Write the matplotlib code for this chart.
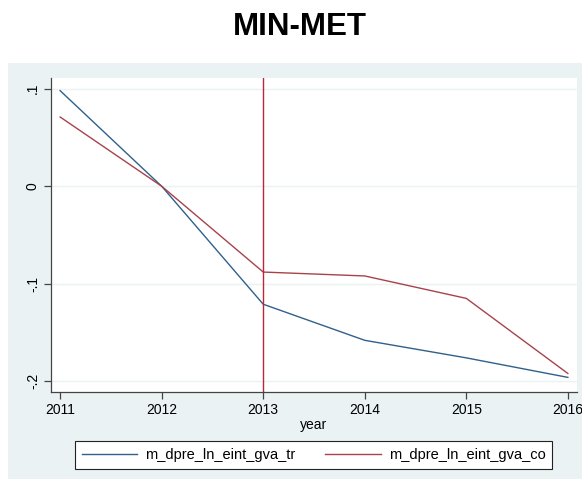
import numpy as np
import matplotlib.pyplot as plt
from matplotlib.patches import Rectangle

plt.rcParams['font.family'] = ['Liberation Sans', 'DejaVu Sans']

years = [2011, 2012, 2013, 2014, 2015, 2016]
gva_tr = [0.098, 0.0, -0.121, -0.158, -0.176, -0.196]
gva_co = [0.071, 0.0, -0.088, -0.092, -0.115, -0.192]
yticks = [0.1, 0.0, -0.1, -0.2]
ytick_labels = ['.1', '0', '-.1', '-.2']
event_year = 2013

W, H = 582, 479
fig = plt.figure(figsize=(W / 100, H / 100), dpi=100)
fig.patch.set_facecolor('white')

# stata-style graph region behind everything
bg = fig.add_axes([8 / W, 0, 1 - 8 / W, (H - 63) / H], zorder=-1)
bg.set_facecolor('#eaf2f3')
bg.set_xticks([])
bg.set_yticks([])
for s in bg.spines.values():
    s.set_visible(False)

fig.text(300 / W, 1 - 27 / H, 'MIN-MET', ha='center', va='center',
         fontsize=22.5, fontweight='bold')

ax = fig.add_axes([51 / W, (H - 392) / H, (577 - 51) / W, (392 - 78) / H])
ax.set_facecolor('white')

ax.plot(years, gva_tr, color='#30608c', lw=1.0, label='m_dpre_ln_eint_gva_tr')
ax.plot(years, gva_co, color='#a8424b', lw=1.0, label='m_dpre_ln_eint_gva_co')
ax.axvline(event_year, color='#b8283a', lw=1.0)

ax.set_xlim(2010.91, 2016.09)
ax.set_ylim(-0.211, 0.111)
ax.set_xticks(years)
ax.set_yticks(yticks)
ax.set_yticklabels(ytick_labels, rotation=90, va='center')
ax.grid(axis='y', color='#eaf2f3', lw=1.0)
ax.set_axisbelow(True)

for s in ['top', 'right']:
    ax.spines[s].set_visible(False)
for s in ['left', 'bottom']:
    ax.spines[s].set_color('#444444')
    ax.spines[s].set_linewidth(0.9)
ax.tick_params(direction='out', length=5, width=0.9, color='#444444',
               labelsize=10, pad=3)
ax.set_xlabel('year', fontsize=10, labelpad=1)

handles, labels = ax.get_legend_handles_labels()
leg = fig.legend(handles, labels, loc='center', ncol=2,
                 bbox_to_anchor=(313.5 / W, 1 - 455 / H),
                 fontsize=10.5, frameon=True, fancybox=False,
                 handlelength=3.8, handletextpad=0.55, columnspacing=2.05,
                 borderpad=0.45, borderaxespad=0)
leg.get_frame().set_edgecolor('#222222')
leg.get_frame().set_linewidth(0.8)
leg.get_frame().set_alpha(1)

fig.savefig('out.png', dpi=100)
